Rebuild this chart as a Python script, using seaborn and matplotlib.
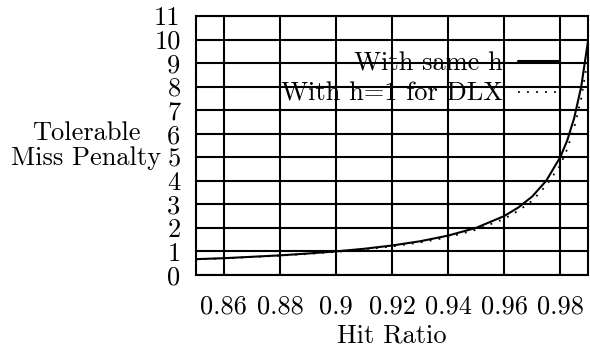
import matplotlib
matplotlib.use("Agg")
import matplotlib.pyplot as plt
import seaborn as sns
import pandas as pd

hit_ratio = [0.85, 0.86, 0.87, 0.88, 0.89, 0.90, 0.91, 0.92, 0.93, 0.94,
             0.95, 0.96, 0.965, 0.97, 0.975, 0.98, 0.9825, 0.985, 0.9875, 0.99]
same_h = [0.67, 0.71, 0.77, 0.83, 0.91, 1.00, 1.11, 1.25, 1.43, 1.67,
          2.00, 2.50, 2.86, 3.33, 4.00, 5.00, 5.71, 6.67, 8.00, 10.00]
dlx_h1 = [0.66, 0.70, 0.76, 0.82, 0.89, 0.98, 1.08, 1.21, 1.38, 1.60,
          1.92, 2.38, 2.72, 3.15, 3.80, 4.65, 5.35, 6.25, 7.50, 9.30]
x_ticks = [0.86, 0.88, 0.90, 0.92, 0.94, 0.96, 0.98]
x_tick_labels = ["0.86", "0.88", "0.9", "0.92", "0.94", "0.96", "0.98"]
y_ticks = list(range(0, 12))
series_names = ["With same h", "With h=1 for DLX"]

sns.set_theme(style="white")
plt.rcParams["font.family"] = ["cmr10", "DejaVu Serif"]
plt.rcParams["mathtext.fontset"] = "cm"
plt.rcParams["axes.unicode_minus"] = False
plt.rcParams["axes.formatter.use_mathtext"] = True

df = pd.DataFrame({"h": hit_ratio * 2,
                   "v": same_h + dlx_h1,
                   "s": [series_names[0]] * len(hit_ratio) + [series_names[1]] * len(hit_ratio)})

fig = plt.figure(figsize=(5.9, 3.48), dpi=100)
ax = fig.add_axes([0.332, 0.21, 0.665, 0.744])

FS = 19
sns.lineplot(data=df[df.s == series_names[0]], x="h", y="v", ax=ax, color="black",
             lw=1.5, label=series_names[0])
sns.lineplot(data=df[df.s == series_names[1]], x="h", y="v", ax=ax, color="black",
             lw=1.3, linestyle=(0, (1, 4)), label=series_names[1])

ax.set_xlim(0.85, 0.99)
ax.set_ylim(0, 11)
ax.set_xticks(x_ticks)
ax.set_xticklabels(x_tick_labels)
ax.set_yticks(y_ticks)
ax.set_yticklabels([str(t) for t in y_ticks])
ax.grid(True, color="black", lw=1.5)
ax.set_axisbelow(True)
for sp in ax.spines.values():
    sp.set_color("black")
    sp.set_linewidth(1.5)
ax.tick_params(axis="both", labelsize=FS, length=0, colors="black")
ax.tick_params(axis="x", pad=14)
ax.tick_params(axis="y", pad=11)
ax.set_xlabel("Hit Ratio", fontsize=FS, color="black", labelpad=4)
ax.set_ylabel("Tolerable\nMiss Penalty", fontsize=FS, color="black",
              rotation=0, ha="center", va="center", labelpad=0, linespacing=1.1)
ax.yaxis.set_label_coords(-0.28, 0.5)

leg = ax.legend(loc="upper right", bbox_to_anchor=(0.929, 0.862), frameon=False,
                fontsize=FS, markerfirst=False, handlelength=1.6,
                handletextpad=0.57, labelspacing=0.25, borderaxespad=0, borderpad=0)
for t in leg.get_texts():
    t.set_color("black")

fig.savefig("out.png", dpi=100)
